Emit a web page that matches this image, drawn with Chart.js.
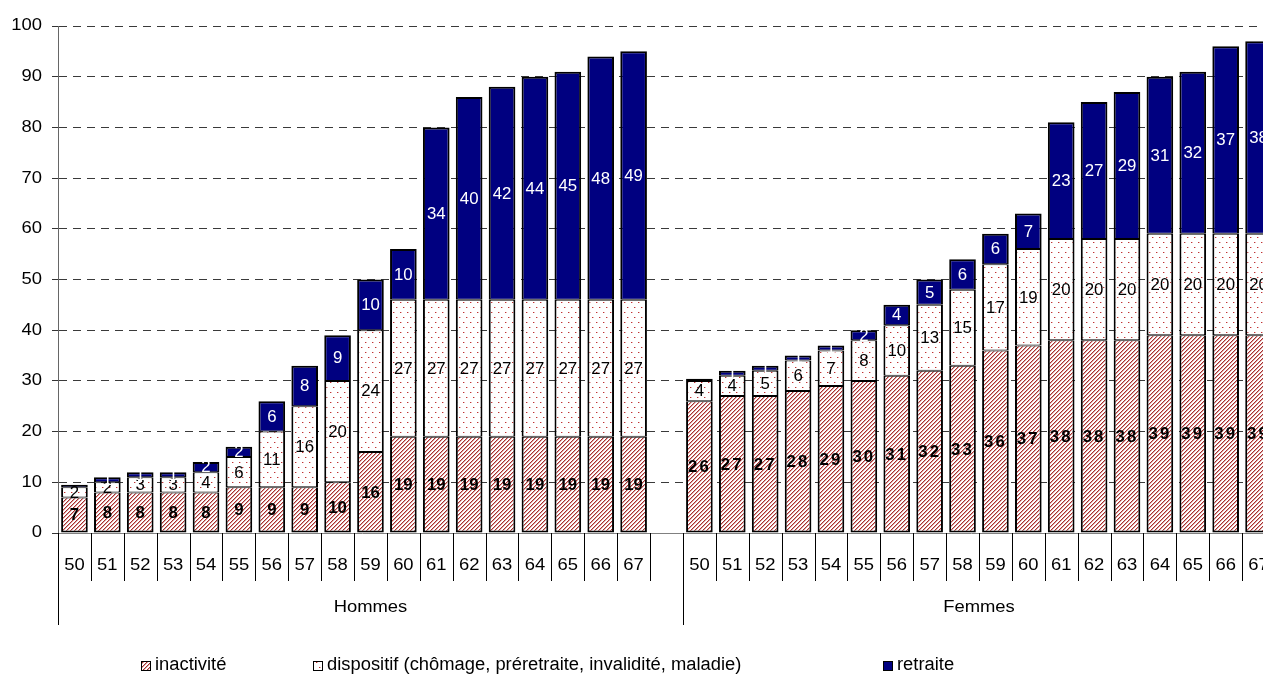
<!DOCTYPE html>
<html lang="fr">
<head>
<meta charset="utf-8">
<title>Inactivité, dispositifs et retraite par âge</title>
<script src="https://cdn.jsdelivr.net/npm/chart.js@4.4.1/dist/chart.umd.min.js"></script>
<style>
  html, body { margin: 0; padding: 0; background: #fff; overflow: hidden; }
  #wrap { width: 1263px; height: 677px; overflow: hidden; position: relative; }
  #chart { position: absolute; left: 0; top: 0; }
</style>
</head>
<body>
<div id="wrap"><canvas id="chart" width="1280" height="677"></canvas></div>
<script>
// Ages shown under each bar, and the two population groups
const ages = ['50','51','52','53','54','55','56','57','58','59','60','61','62','63','64','65','66','67'];
const groups = ['Hommes', 'Femmes'];
const seriesNames = ['inactivité', 'dispositif (chômage, préretraite, invalidité, maladie)', 'retraite'];

// Hommes, by age (%)
const hommesInactivite = [7, 8, 8, 8, 8, 9, 9, 9, 10, 16, 19, 19, 19, 19, 19, 19, 19, 19];
const hommesDispositif = [2, 2, 3, 3, 4, 6, 11, 16, 20, 24, 27, 27, 27, 27, 27, 27, 27, 27];
const hommesRetraite   = [0.5, 1, 1, 1, 2, 2, 6, 8, 9, 10, 10, 34, 40, 42, 44, 45, 48, 49];

// Femmes, by age (%)
const femmesInactivite = [26, 27, 27, 28, 29, 30, 31, 32, 33, 36, 37, 38, 38, 38, 39, 39, 39, 39];
const femmesDispositif = [4, 4, 5, 6, 7, 8, 10, 13, 15, 17, 19, 20, 20, 20, 20, 20, 20, 20];
const femmesRetraite   = [0.4, 1, 1, 1, 1, 2, 4, 5, 6, 6, 7, 23, 27, 29, 31, 32, 37, 38];

// Vertical axis ticks
const yTicks = [0, 10, 20, 30, 40, 50, 60, 70, 80, 90, 100];

// One empty slot separates the two groups on the category axis
const labels = [...ages, '', ...ages];
const joinGroups = (h, f) => [...h, null, ...f];
const groupSpans = [[0, ages.length + 1], [ages.length + 1, 2 * ages.length + 1]]; // [first, end) slots per group

const canvas = document.getElementById('chart');
const ctx = canvas.getContext('2d');

// Fill patterns
function makePattern(w, h, paint) {
  const c = document.createElement('canvas');
  c.width = w; c.height = h;
  const g = c.getContext('2d');
  g.fillStyle = '#fff';
  g.fillRect(0, 0, w, h);
  paint(g);
  return ctx.createPattern(c, 'repeat');
}
const hatch = makePattern(4, 4, g => {
  for (let x = 0; x < 4; x++) {
    for (let y = 0; y < 4; y++) {
      const k = (x + y) % 4;
      if (k === 0) { g.fillStyle = '#a8302f'; g.fillRect(x, y, 1, 1); }
      else if (k === 1) { g.fillStyle = '#dca4a4'; g.fillRect(x, y, 1, 1); }
    }
  }
});
const dots = makePattern(7, 10, g => {
  g.fillStyle = '#c03232';
  g.fillRect(1, 2, 1, 1);
  g.fillRect(4, 7, 1, 1);
  g.fillStyle = '#e8b4b4';
  g.fillRect(2, 2, 1, 1);
  g.fillRect(5, 7, 1, 1);
});
const navy = '#000080';

const FONT = '"Liberation Sans", Arial, sans-serif';
const STRETCH = 1.15;

function drawText(c, text, x, y, opts) {
  c.save();
  c.font = opts.font;
  c.fillStyle = opts.color || '#000';
  c.textAlign = opts.align || 'center';
  c.textBaseline = 'middle';
  if (opts.spacing) c.letterSpacing = opts.spacing;
  c.translate(x, y);
  c.scale(opts.stretch || STRETCH, 1);
  c.fillText(text, 0, 0);
  c.restore();
}

// Value labels centred in every segment
const valueLabels = {
  id: 'valueLabels',
  afterDatasetsDraw(chart) {
    const c = chart.ctx;
    chart.data.datasets.forEach((ds, i) => {
      const meta = chart.getDatasetMeta(i);
      meta.data.forEach((bar, j) => {
        const v = ds.data[j];
        if (v == null || v < 1) return;
        const p = bar.getProps(['x', 'y', 'base'], true);
        const femmes = j > ages.length;
        drawText(c, String(v), p.x, (p.y + p.base) / 2 + 1, {
          font: ds.valueFont,
          color: ds.valueColor,
          spacing: (femmes && ds.valueSpacedForFemmes) ? '2px' : undefined,
          stretch: 1.05
        });
      });
    });
  }
};

// Vertical tick labels, two-level category axis and legend
const axisAndLegend = {
  id: 'axisAndLegend',
  afterDraw(chart) {
    const c = chart.ctx;
    const xs = chart.scales.x;
    const ys = chart.scales.y;
    const area = chart.chartArea;

    // y tick labels
    ys.ticks.forEach(t => {
      drawText(c, String(t.value), area.left - 16, ys.getPixelForValue(t.value), {
        font: '16px ' + FONT, align: 'right'
      });
    });

    // category axis: short separators, long group separators, age and group labels
    const n = chart.data.labels.length;
    const step = xs.getPixelForValue(1) - xs.getPixelForValue(0);
    const edge = i => xs.getPixelForValue(0) - step / 2 + i * step;
    const groupEdges = new Set();
    groupSpans.forEach(([a, b]) => { groupEdges.add(a); groupEdges.add(b); });
    const top = area.bottom;
    c.save();
    c.strokeStyle = '#000';
    c.lineWidth = 1;
    for (let i = 0; i <= n; i++) {
      const x = Math.round(edge(i)) + 0.5;
      const len = groupEdges.has(i) ? 92 : 48;
      c.beginPath();
      c.moveTo(x, top);
      c.lineTo(x, top + len);
      c.stroke();
    }
    c.restore();
    chart.data.labels.forEach((lab, i) => {
      if (!lab) return;
      drawText(c, lab, xs.getPixelForValue(i), top + 33, { font: '16px ' + FONT });
    });
    groupSpans.forEach(([a, b], gi) => {
      const x = (edge(a) + edge(b)) / 2;
      drawText(c, groups[gi], x, top + 75, { font: '16px ' + FONT });
    });

    // legend
    const legendX = [141, 313, 883];
    const ly = 665;
    chart.data.datasets.forEach((ds, i) => {
      const bx = legendX[i];
      c.save();
      c.fillStyle = ds.backgroundColor;
      c.fillRect(bx, ly - 4, 10, 10);
      c.strokeStyle = '#000';
      c.lineWidth = 1;
      c.strokeRect(bx + 0.5, ly - 3.5, 9, 9);
      c.restore();
      drawText(c, ds.label, bx + 14, ly, { font: '18px ' + FONT, align: 'left', stretch: 1.02 });
    });
  }
};

new Chart(ctx, {
  type: 'bar',
  data: {
    labels: labels,
    datasets: [
      {
        label: seriesNames[0],
        data: joinGroups(hommesInactivite, femmesInactivite),
        backgroundColor: hatch,
        borderColor: '#000',
        borderWidth: { top: 1, bottom: 2, left: 2, right: 2 },
        borderSkipped: false,
        valueFont: 'bold 16px ' + FONT,
        valueColor: '#000',
        valueSpacedForFemmes: true
      },
      {
        label: seriesNames[1],
        data: joinGroups(hommesDispositif, femmesDispositif),
        backgroundColor: dots,
        borderColor: '#000',
        borderWidth: { top: 1, bottom: 1, left: 2, right: 2 },
        borderSkipped: false,
        valueFont: '16px ' + FONT,
        valueColor: '#000'
      },
      {
        label: seriesNames[2],
        data: joinGroups(hommesRetraite, femmesRetraite),
        backgroundColor: navy,
        borderColor: '#000',
        borderWidth: { top: 2, bottom: 1, left: 2, right: 2 },
        borderSkipped: false,
        valueFont: '16px ' + FONT,
        valueColor: '#fff'
      }
    ]
  },
  options: {
    responsive: false,
    animation: false,
    devicePixelRatio: 1,
    layout: { padding: { top: 26, right: 5, left: 0, bottom: 0 } },
    datasets: { bar: { categoryPercentage: 1, barPercentage: 0.81 } },
    plugins: { legend: { display: false }, tooltip: { enabled: false } },
    scales: {
      x: {
        stacked: true,
        ticks: { display: false },
        grid: { display: false },
        border: { display: true, color: '#808080', width: 1 },
        afterFit: s => { s.height = 144; }
      },
      y: {
        stacked: true,
        min: 0,
        max: 100,
        afterBuildTicks: s => { s.ticks = yTicks.map(v => ({ value: v })); },
        ticks: { display: false },
        grid: {
          color: c => (c.tick && c.tick.value === 0) ? 'rgba(0,0,0,0)' : '#3a3a3a',
          lineWidth: 1,
          drawTicks: true,
          tickLength: 6,
          tickColor: '#333'
        },
        border: { display: true, color: '#666', width: 1, dash: [8, 6] },
        afterFit: s => { s.width = 58; }
      }
    }
  },
  plugins: [valueLabels, axisAndLegend]
});
</script>
</body>
</html>
